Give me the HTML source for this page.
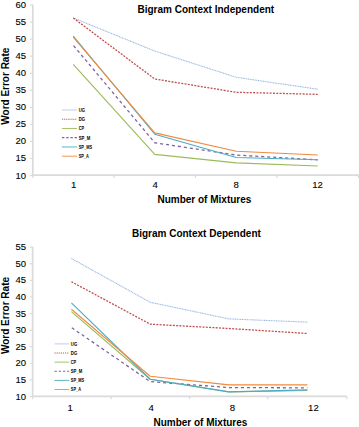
<!DOCTYPE html>
<html><head><meta charset="utf-8"><style>
html,body{margin:0;padding:0;background:#fff;}
body{width:359px;height:427px;overflow:hidden;}
svg{display:block;}
text{font-family:"Liberation Sans",sans-serif;fill:#000;}
.yl{font-size:9.5px;text-anchor:end;fill:#000;stroke:#000;stroke-width:0.1px;}
.xl{font-size:9.6px;text-anchor:middle;fill:#000;stroke:#000;stroke-width:0.1px;}
.t{font-size:10px;font-weight:bold;text-anchor:middle;}
.lg{font-size:5px;font-weight:bold;}
</style></head><body>
<svg width="359" height="427" viewBox="0 0 359 427">
<rect width="359" height="427" fill="#fff"/>
<line x1="32.8" y1="4.5" x2="32.8" y2="175.1" stroke="#DADADA" stroke-width="1.7"/>
<line x1="29.999999999999996" y1="175.50" x2="32.8" y2="175.50" stroke="#DADADA" stroke-width="1.2"/>
<text x="26" y="178.50" class="yl">10</text>
<line x1="29.999999999999996" y1="158.45" x2="32.8" y2="158.45" stroke="#DADADA" stroke-width="1.2"/>
<text x="26" y="161.45" class="yl">15</text>
<line x1="29.999999999999996" y1="141.40" x2="32.8" y2="141.40" stroke="#DADADA" stroke-width="1.2"/>
<text x="26" y="144.40" class="yl">20</text>
<line x1="29.999999999999996" y1="124.35" x2="32.8" y2="124.35" stroke="#DADADA" stroke-width="1.2"/>
<text x="26" y="127.35" class="yl">25</text>
<line x1="29.999999999999996" y1="107.30" x2="32.8" y2="107.30" stroke="#DADADA" stroke-width="1.2"/>
<text x="26" y="110.30" class="yl">30</text>
<line x1="29.999999999999996" y1="90.25" x2="32.8" y2="90.25" stroke="#DADADA" stroke-width="1.2"/>
<text x="26" y="93.25" class="yl">35</text>
<line x1="29.999999999999996" y1="73.20" x2="32.8" y2="73.20" stroke="#DADADA" stroke-width="1.2"/>
<text x="26" y="76.20" class="yl">40</text>
<line x1="29.999999999999996" y1="56.15" x2="32.8" y2="56.15" stroke="#DADADA" stroke-width="1.2"/>
<text x="26" y="59.15" class="yl">45</text>
<line x1="29.999999999999996" y1="39.10" x2="32.8" y2="39.10" stroke="#DADADA" stroke-width="1.2"/>
<text x="26" y="42.10" class="yl">50</text>
<line x1="29.999999999999996" y1="22.05" x2="32.8" y2="22.05" stroke="#DADADA" stroke-width="1.2"/>
<text x="26" y="25.05" class="yl">55</text>
<line x1="29.999999999999996" y1="5.00" x2="32.8" y2="5.00" stroke="#DADADA" stroke-width="1.2"/>
<text x="26" y="8.00" class="yl">60</text>
<line x1="32.8" y1="175.1" x2="358.5" y2="175.1" stroke="#DADADA" stroke-width="1.7"/>
<line x1="32.8" y1="175.1" x2="32.8" y2="177.9" stroke="#DADADA" stroke-width="1.2"/>
<line x1="114" y1="175.1" x2="114" y2="177.9" stroke="#DADADA" stroke-width="1.2"/>
<line x1="195.5" y1="175.1" x2="195.5" y2="177.9" stroke="#DADADA" stroke-width="1.2"/>
<line x1="277" y1="175.1" x2="277" y2="177.9" stroke="#DADADA" stroke-width="1.2"/>
<line x1="358.5" y1="175.1" x2="358.5" y2="177.9" stroke="#DADADA" stroke-width="1.2"/>
<text x="73.6" y="188.1" class="xl">1</text>
<text x="155.1" y="188.1" class="xl">4</text>
<text x="236.1" y="188.1" class="xl">8</text>
<text x="317.6" y="188.1" class="xl">12</text>
<polyline points="73.25,17.96 154.75,51.03 236.25,77.29 317.75,89.23" fill="none" stroke="#9CB8E2" stroke-width="1.1" stroke-dasharray="1.1 0.6" stroke-linejoin="round"/>
<polyline points="73.25,17.96 154.75,79.00 236.25,92.30 317.75,94.34" fill="none" stroke="#C0504D" stroke-width="1.3" stroke-dasharray="2 1.3" stroke-linejoin="round"/>
<polyline points="73.25,64.33 154.75,154.36 236.25,162.88 317.75,165.95" fill="none" stroke="#9BBB59" stroke-width="1.1" stroke-linejoin="round"/>
<polyline points="73.25,45.24 154.75,142.76 236.25,155.04 317.75,159.81" fill="none" stroke="#8064A2" stroke-width="1.3" stroke-dasharray="3.1 2.9" stroke-dashoffset="5.5" stroke-linejoin="round"/>
<polyline points="73.25,36.03 154.75,134.24 236.25,157.43 317.75,159.81" fill="none" stroke="#4BACC6" stroke-width="1.1" stroke-linejoin="round"/>
<polyline points="73.25,37.05 154.75,132.88 236.25,151.29 317.75,155.04" fill="none" stroke="#F08A3E" stroke-width="1.1" stroke-linejoin="round"/>
<line x1="62" y1="110.00" x2="77" y2="110.00" stroke="#B4CAE8" stroke-width="0.9"/>
<text x="78.7" y="111.80" class="lg" textLength="6.4" lengthAdjust="spacingAndGlyphs">UG</text>
<line x1="62" y1="119.24" x2="77" y2="119.24" stroke="#C75A57" stroke-width="1" stroke-dasharray="1.2 0.9"/>
<text x="78.7" y="121.04" class="lg" textLength="6.4" lengthAdjust="spacingAndGlyphs">DG</text>
<line x1="62" y1="128.48" x2="77" y2="128.48" stroke="#9BBB59" stroke-width="0.9"/>
<text x="78.7" y="130.28" class="lg" textLength="5.4" lengthAdjust="spacingAndGlyphs">CP</text>
<line x1="62" y1="137.72" x2="77" y2="137.72" stroke="#8064A2" stroke-width="1.2" stroke-dasharray="2.4 1.8"/>
<text x="78.7" y="139.52" class="lg" textLength="11.5" lengthAdjust="spacingAndGlyphs">SP_M</text>
<line x1="62" y1="146.96" x2="77" y2="146.96" stroke="#4BACC6" stroke-width="0.9"/>
<text x="78.7" y="148.76" class="lg" textLength="13.4" lengthAdjust="spacingAndGlyphs">SP_MS</text>
<line x1="62" y1="156.20" x2="77" y2="156.20" stroke="#F08A3E" stroke-width="0.9"/>
<text x="78.7" y="158.00" class="lg" textLength="10.2" lengthAdjust="spacingAndGlyphs">SP_A</text>
<text x="205.8" y="13" class="t">Bigram Context Independent</text>
<text x="204.4" y="202.6" class="t">Number of Mixtures</text>
<text transform="translate(8.6,86.2) rotate(-90)" x="0" y="0" class="t">Word Error Rate</text>
<line x1="32.6" y1="246.69" x2="32.6" y2="396.4" stroke="#DADADA" stroke-width="1.7"/>
<line x1="29.8" y1="396.50" x2="32.6" y2="396.50" stroke="#DADADA" stroke-width="1.2"/>
<text x="26" y="399.50" class="yl">10</text>
<line x1="29.8" y1="379.91" x2="32.6" y2="379.91" stroke="#DADADA" stroke-width="1.2"/>
<text x="26" y="382.91" class="yl">15</text>
<line x1="29.8" y1="363.32" x2="32.6" y2="363.32" stroke="#DADADA" stroke-width="1.2"/>
<text x="26" y="366.32" class="yl">20</text>
<line x1="29.8" y1="346.73" x2="32.6" y2="346.73" stroke="#DADADA" stroke-width="1.2"/>
<text x="26" y="349.73" class="yl">25</text>
<line x1="29.8" y1="330.14" x2="32.6" y2="330.14" stroke="#DADADA" stroke-width="1.2"/>
<text x="26" y="333.14" class="yl">30</text>
<line x1="29.8" y1="313.55" x2="32.6" y2="313.55" stroke="#DADADA" stroke-width="1.2"/>
<text x="26" y="316.55" class="yl">35</text>
<line x1="29.8" y1="296.96" x2="32.6" y2="296.96" stroke="#DADADA" stroke-width="1.2"/>
<text x="26" y="299.96" class="yl">40</text>
<line x1="29.8" y1="280.37" x2="32.6" y2="280.37" stroke="#DADADA" stroke-width="1.2"/>
<text x="26" y="283.37" class="yl">45</text>
<line x1="29.8" y1="263.78" x2="32.6" y2="263.78" stroke="#DADADA" stroke-width="1.2"/>
<text x="26" y="266.78" class="yl">50</text>
<line x1="29.8" y1="247.19" x2="32.6" y2="247.19" stroke="#DADADA" stroke-width="1.2"/>
<text x="26" y="250.19" class="yl">55</text>
<line x1="32.6" y1="396.4" x2="346.9" y2="396.4" stroke="#DADADA" stroke-width="1.7"/>
<line x1="32.6" y1="396.4" x2="32.6" y2="399.2" stroke="#DADADA" stroke-width="1.2"/>
<line x1="111.1" y1="396.4" x2="111.1" y2="399.2" stroke="#DADADA" stroke-width="1.2"/>
<line x1="189.5" y1="396.4" x2="189.5" y2="399.2" stroke="#DADADA" stroke-width="1.2"/>
<line x1="267.7" y1="396.4" x2="267.7" y2="399.2" stroke="#DADADA" stroke-width="1.2"/>
<line x1="346.9" y1="396.4" x2="346.9" y2="399.2" stroke="#DADADA" stroke-width="1.2"/>
<text x="70.2" y="410.5" class="xl">1</text>
<text x="151.1" y="410.5" class="xl">4</text>
<text x="232.3" y="410.5" class="xl">8</text>
<text x="313.4" y="410.5" class="xl">12</text>
<polyline points="71.40,258.47 150.20,302.27 228.80,318.86 307.40,322.18" fill="none" stroke="#9CB8E2" stroke-width="1.1" stroke-dasharray="1.1 0.6" stroke-linejoin="round"/>
<polyline points="71.40,281.70 150.20,324.17 228.80,328.48 307.40,333.46" fill="none" stroke="#C0504D" stroke-width="1.3" stroke-dasharray="2 1.3" stroke-linejoin="round"/>
<polyline points="71.40,311.56 150.20,379.25 228.80,391.85 307.40,390.53" fill="none" stroke="#9BBB59" stroke-width="1.1" stroke-linejoin="round"/>
<polyline points="71.40,327.49 150.20,381.57 228.80,387.54 307.40,387.87" fill="none" stroke="#8064A2" stroke-width="1.3" stroke-dasharray="3.1 2.9" stroke-dashoffset="5.5" stroke-linejoin="round"/>
<polyline points="71.40,302.93 150.20,379.25 228.80,391.85 307.40,389.86" fill="none" stroke="#4BACC6" stroke-width="1.1" stroke-linejoin="round"/>
<polyline points="71.40,309.24 150.20,376.26 228.80,384.89 307.40,384.89" fill="none" stroke="#F08A3E" stroke-width="1.1" stroke-linejoin="round"/>
<line x1="54.5" y1="343.90" x2="69.2" y2="343.90" stroke="#B4CAE8" stroke-width="0.9"/>
<text x="70.8" y="345.70" class="lg" textLength="6.4" lengthAdjust="spacingAndGlyphs">UG</text>
<line x1="54.5" y1="353.02" x2="69.2" y2="353.02" stroke="#C75A57" stroke-width="1" stroke-dasharray="1.2 0.9"/>
<text x="70.8" y="354.82" class="lg" textLength="6.4" lengthAdjust="spacingAndGlyphs">DG</text>
<line x1="54.5" y1="362.14" x2="69.2" y2="362.14" stroke="#9BBB59" stroke-width="0.9"/>
<text x="70.8" y="363.94" class="lg" textLength="5.4" lengthAdjust="spacingAndGlyphs">CP</text>
<line x1="54.5" y1="371.26" x2="69.2" y2="371.26" stroke="#8064A2" stroke-width="1.2" stroke-dasharray="2.4 1.8"/>
<text x="70.8" y="373.06" class="lg" textLength="11.5" lengthAdjust="spacingAndGlyphs">SP_M</text>
<line x1="54.5" y1="380.38" x2="69.2" y2="380.38" stroke="#4BACC6" stroke-width="0.9"/>
<text x="70.8" y="382.18" class="lg" textLength="13.4" lengthAdjust="spacingAndGlyphs">SP_MS</text>
<line x1="54.5" y1="389.50" x2="69.2" y2="389.50" stroke="#F08A3E" stroke-width="0.9"/>
<text x="70.8" y="391.30" class="lg" textLength="10.2" lengthAdjust="spacingAndGlyphs">SP_A</text>
<text x="196.4" y="236.5" class="t">Bigram Context Dependent</text>
<text x="200.4" y="425.6" class="t">Number of Mixtures</text>
<text transform="translate(8.6,315.5) rotate(-90)" x="0" y="0" class="t">Word Error Rate</text>
</svg>
</body></html>
